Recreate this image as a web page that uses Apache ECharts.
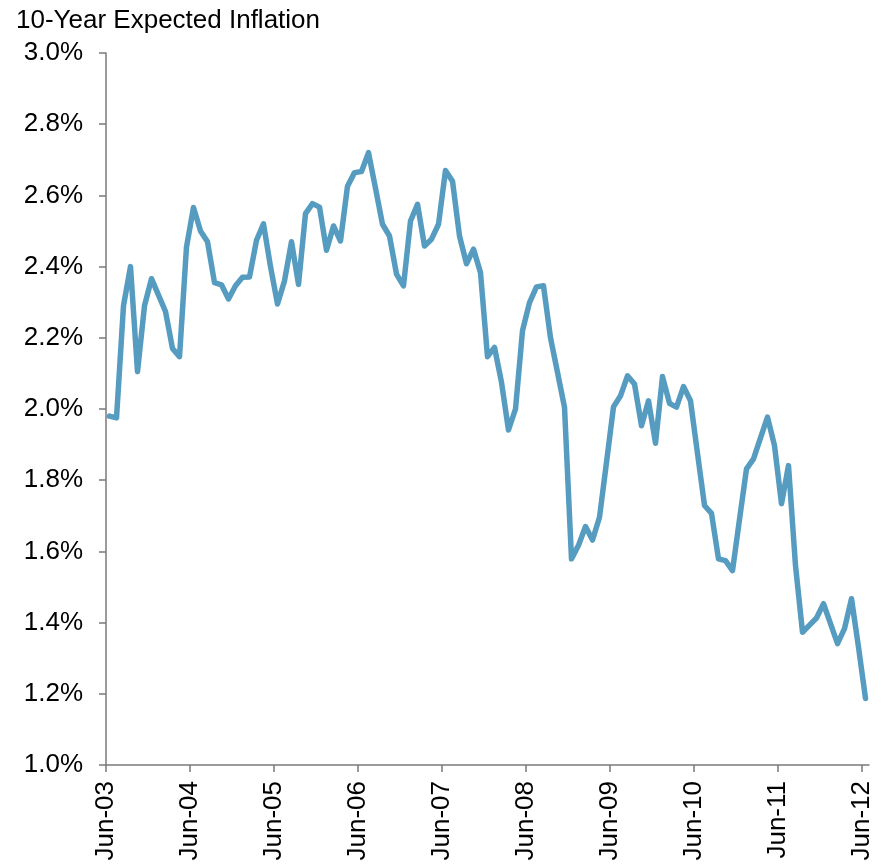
<!DOCTYPE html>
<html>
<head>
<meta charset="utf-8">
<title>10-Year Expected Inflation</title>
<script src="https://cdn.jsdelivr.net/npm/echarts@6/dist/echarts.min.js"></script>
<style>
  html, body { margin: 0; padding: 0; background: #fff; }
  #main { width: 889px; height: 865px; }
</style>
</head>
<body>
<div id="main"></div>
<script>
// monthly readings, Jun-03 .. Jun-12 (percent)
var inflation = [
  1.98, 1.975, 2.29, 2.40, 2.105, 2.29, 2.366, 2.32, 2.274, 2.17, 2.147, 2.455,
  2.566, 2.50, 2.47, 2.355, 2.349, 2.309, 2.346, 2.37, 2.371, 2.474, 2.52, 2.40,
  2.295, 2.36, 2.47, 2.35, 2.549, 2.577, 2.567, 2.446, 2.514, 2.472, 2.626, 2.664,
  2.667, 2.72, 2.62, 2.519, 2.486, 2.379, 2.346, 2.528, 2.575, 2.458, 2.477, 2.519,
  2.67, 2.64, 2.486, 2.408, 2.449, 2.383, 2.147, 2.173, 2.075, 1.941, 2.0, 2.22,
  2.299, 2.343, 2.346, 2.20, 2.103, 2.005, 1.579, 1.617, 1.67, 1.632, 1.696, 1.85,
  2.006, 2.037, 2.093, 2.07, 1.953, 2.023, 1.904, 2.091, 2.016, 2.005, 2.063, 2.023,
  1.875, 1.729, 1.707, 1.579, 1.574, 1.546, 1.69, 1.832, 1.86, 1.919, 1.977, 1.897,
  1.734, 1.841, 1.56, 1.373, 1.393, 1.413, 1.453, 1.397, 1.341, 1.383, 1.467, 1.331,
  1.187
];

// tick labels, one per June
var xLabels = ['Jun-03', 'Jun-04', 'Jun-05', 'Jun-06', 'Jun-07', 'Jun-08', 'Jun-09', 'Jun-10', 'Jun-11', 'Jun-12'];

// observations are month-end, so each sits half a month past its month start
var points = inflation.map(function (v, i) { return [i + 0.5, v]; });

var font = 'Liberation Sans, Arial, sans-serif';
var axisGray = '#7a7a7a';

var myChart = echarts.init(document.getElementById('main'));
myChart.setOption({
  animation: false,
  title: {
    text: '10-Year Expected Inflation',
    left: 16,
    top: 8,
    padding: 0,
    textStyle: { fontFamily: font, fontSize: 26, fontWeight: 'normal', color: '#000' }
  },
  grid: { left: 106, top: 53, width: 763, bottom: 100 },
  xAxis: {
    type: 'value',
    min: 0,
    max: 109,
    interval: 12,
    splitLine: { show: false },
    axisLine: { lineStyle: { color: axisGray, width: 1.5 } },
    axisTick: { length: 7, lineStyle: { color: axisGray, width: 1.5 } },
    axisLabel: {
      rotate: 90,
      margin: 16,
      fontFamily: font,
      fontSize: 26,
      color: '#000',
      showMaxLabel: false,
      formatter: function (v) { return xLabels[v / 12] || ''; }
    }
  },
  yAxis: {
    type: 'value',
    min: 1.0,
    max: 3.0,
    interval: 0.2,
    splitLine: { show: false },
    axisLine: { show: true, lineStyle: { color: axisGray, width: 1.5 } },
    axisTick: { show: true, length: 7, lineStyle: { color: axisGray, width: 1.5 } },
    axisLabel: {
      margin: 23,
      fontFamily: font,
      fontSize: 26,
      color: '#000',
      formatter: function (v) { return v.toFixed(1) + '%'; }
    }
  },
  series: [{
    type: 'line',
    data: points,
    showSymbol: false,
    lineStyle: { color: '#569CC0', width: 5.5, join: 'round', cap: 'round' }
  }]
});
</script>
</body>
</html>
